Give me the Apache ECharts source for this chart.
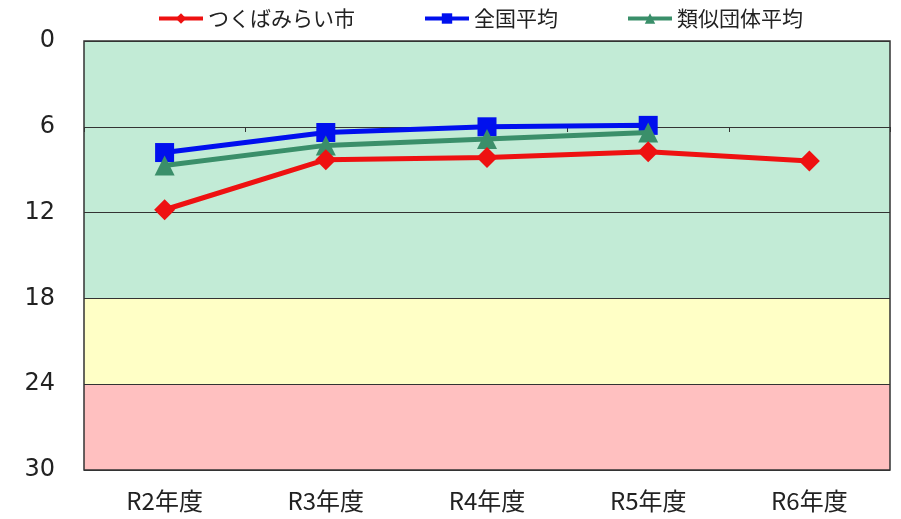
<!DOCTYPE html>
<html><head><meta charset="utf-8">
<script src="https://cdn.jsdelivr.net/npm/echarts@6/dist/echarts.min.js"></script>
<style>html,body{margin:0;padding:0;background:#fff}#c{width:901px;height:519px}</style>
</head><body><div id="c"></div>
<script>
const categories = ['R2年度','R3年度','R4年度','R5年度','R6年度'];
const tsukubamirai = [11.8, 8.3, 8.15, 7.75, 8.4];
const national = [7.8, 6.4, 6.0, 5.9, null];
const similar = [8.7, 7.3, 6.85, 6.4, null];
const yTicks = [0, 6, 12, 18, 24, 30];
const bands = [[0, 18, '#c2ebd6'], [18, 24, '#ffffc6'], [24, 30, '#ffc0c0']];

const chart = echarts.init(document.getElementById('c'));
const font = '"Noto Sans CJK JP", "Noto Sans", sans-serif';
chart.setOption({
  animation: false,
  textStyle: {fontFamily: font},
  legend: {
    top: 3, left: 152, itemGap: 68, itemWidth: 44, itemHeight: 13,
    lineStyle: {width: 4},
    textStyle: {fontSize: 21, color: '#222', fontFamily: font},
    data: ['つくばみらい市', '全国平均', '類似団体平均']
  },
  grid: {left: 84, right: 11, top: 41, bottom: 49, show: true, borderColor: '#333', borderWidth: 1.5, backgroundColor: 'transparent'},
  xAxis: [{
    type: 'category', data: categories, boundaryGap: true,
    axisLine: {show: false}, axisTick: {show: false},
    axisLabel: {fontSize: 24, color: '#222', margin: 19, fontFamily: font}
  }, {
    type: 'category', data: categories, boundaryGap: true, position: 'top', offset: -86,
    axisLine: {show: false}, axisLabel: {show: false},
    axisTick: {show: true, inside: true, length: 5, lineStyle: {color: '#333'}}
  }],
  yAxis: {
    type: 'value', inverse: true, min: yTicks[0], max: yTicks[yTicks.length - 1], interval: 6, z: 1,
    axisLine: {show: false}, axisTick: {show: false},
    axisLabel: {fontSize: 24, color: '#222', margin: 29, fontFamily: '"DejaVu Sans", sans-serif'},
    splitLine: {show: true, lineStyle: {color: '#333', width: 1}}
  },
  series: [
    {
      name: 'bands', type: 'line', data: [], z: -1, silent: true,
      markArea: {silent: true, z: -1, itemStyle: {opacity: 1}, data: bands.map(b => [{yAxis: b[0], itemStyle: {color: b[2]}}, {yAxis: b[1]}])}
    },
    {
      name: 'つくばみらい市', type: 'line', data: tsukubamirai, z: 5,
      symbol: 'diamond', symbolSize: 21, itemStyle: {color: '#ee1111'},
      lineStyle: {width: 5, color: '#ee1111'}
    },
    {
      name: '全国平均', type: 'line', data: national, z: 3,
      symbol: 'rect', symbolSize: 19, itemStyle: {color: '#0010ee'},
      lineStyle: {width: 5, color: '#0010ee'}
    },
    {
      name: '類似団体平均', type: 'line', data: similar, z: 4,
      symbol: 'triangle', symbolSize: 20, itemStyle: {color: '#3a8f6a'},
      lineStyle: {width: 5, color: '#3a8f6a'}
    }
  ]
});
</script></body></html>
